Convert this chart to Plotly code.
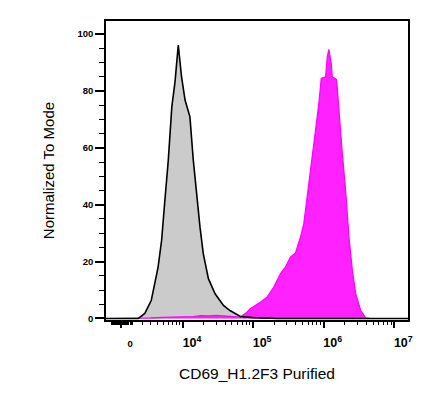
import numpy as np
import plotly.graph_objects as go

# biexponential-ish display scale (FlowJo style), c sets the linear width around 0
C = 1350.0


def biex(v):
    return np.arcsinh(np.asarray(v, dtype=float) / (2 * C)) / np.log(10)


# control histogram (grey, black outline)
grey_x = [-1500, 1600, 2300, 3100, 4100, 4700, 5300, 6000, 6800, 7600, 8500,
          9500, 10700, 12600, 14100, 15800, 17600, 19600, 23200, 28900, 38000,
          47000, 56000, 66000, 100000, 180000, 220000, 16000000]
grey_y = [0, 0, 1.8, 6.3, 18, 27.5, 41.5, 55.6, 74.4, 83.2, 96.1,
          85, 76.8, 70.9, 55.6, 42.7, 32.1, 22.8, 14, 8.7, 4.6,
          2.8, 1.6, 0.7, 0.3, 0.2, 0, 0]

# CD69 stained histogram (magenta)
mag_x = [-1500, 1500, 3000, 5000, 8000, 11000, 14000, 18000, 24000, 30000,
         40000, 50000, 65700, 80000, 91100, 126500, 157500, 195500, 243400,
         286700, 337800, 397900, 468600, 522200, 615000, 687600, 766100,
         853600, 923300, 1063000, 1124000, 1184000, 1281000, 1324000, 1524000,
         1643000, 1837000, 2046000, 2280000, 2549000, 2839000, 3344000,
         3939000, 4643000, 16000000]
mag_y = [0, 0, 0.2, 0.4, 0.5, 0.8, 0.7, 1.0, 0.9, 1.1,
         0.8, 0.6, 0.5, 2.0, 3.4, 5.7, 7.5, 11, 15.7,
         18.1, 21.6, 23, 28.6, 33.3, 47.4, 55.6, 66.2,
         75.6, 84.4, 85, 92, 94.6, 89.7, 85, 84,
         72, 58, 45, 28.6, 16.9, 8.7, 2.8,
         0.2, 0, 0]

# axis ticks
major_vals = [0, 1e4, 1e5, 1e6, 1e7]
major_text = ["0"] + ["<span style='font-size:12.5px'>10<sup>%d</sup></span>" % p
                      for p in (4, 5, 6, 7)]
minor_vals = ([-m * 100 for m in range(1, 10)] + [m * 100 for m in range(1, 10)]
              + [m * 1000 for m in range(1, 10)] + [m * 1e4 for m in range(2, 10)]
              + [m * 1e5 for m in range(2, 10)] + [m * 1e6 for m in range(2, 10)])

fig = go.Figure()
fig.add_trace(go.Scatter(x=biex(grey_x), y=grey_y, mode="lines", fill="tozeroy",
                         fillcolor="#cbcbcb", line=dict(width=0, color="#cbcbcb"),
                         hoverinfo="skip", showlegend=False))
fig.add_trace(go.Scatter(x=biex(mag_x), y=mag_y, mode="lines", fill="tozeroy",
                         fillcolor="#ff22ff", line=dict(width=1.2, color="#ff00ff"),
                         showlegend=False))
fig.add_trace(go.Scatter(x=biex(grey_x), y=grey_y, mode="lines",
                         line=dict(width=1.6, color="black"), showlegend=False))

fig.update_layout(
    width=447, height=402,
    margin=dict(l=98, r=47, t=13, b=90),
    paper_bgcolor="white", plot_bgcolor="white",
    font=dict(family="Liberation Sans, Arial, sans-serif", color="black"),
)
fig.update_xaxes(
    range=[-0.214, 4.064], showgrid=False, zeroline=False,
    showline=True, mirror=True, linecolor="black", linewidth=1.5,
    tickmode="array", tickvals=biex(major_vals), ticktext=major_text,
    ticks="outside", ticklen=6, tickwidth=2, tickcolor="black",
    ticklabelshift=9, ticklabelstandoff=8,
    tickfont=dict(size=9.5, weight="bold"),
    minor=dict(tickmode="array", tickvals=biex(minor_vals), ticks="outside",
               ticklen=3, tickwidth=1, tickcolor="black"),
    title=dict(text="CD69_H1.2F3 Purified", font=dict(size=15.5), standoff=19),
)
fig.update_yaxes(
    range=[-0.53, 104.6], showgrid=False, zeroline=False,
    showline=True, mirror=True, linecolor="black", linewidth=1.5,
    tickmode="array", tickvals=[0, 20, 40, 60, 80, 100],
    ticks="outside", ticklen=9, tickwidth=2, tickcolor="black",
    tickfont=dict(size=9.5, weight="bold"),
    minor=dict(tickmode="array", tickvals=[5, 10, 15, 25, 30, 35, 45, 50, 55,
                                           65, 70, 75, 85, 90, 95],
               ticks="outside", ticklen=5, tickwidth=1, tickcolor="black"),
    title=dict(text="Normalized To Mode", font=dict(size=15), standoff=19),
)

fig.write_html("out.html")
